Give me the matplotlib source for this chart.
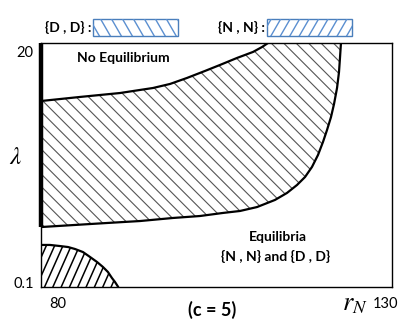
import numpy as np
import matplotlib
matplotlib.use('Agg')
import matplotlib.pyplot as plt
from matplotlib.patches import Polygon, Rectangle
from matplotlib.collections import LineCollection

# Region boundaries (x = r_N, y = lambda)
upper_x = [80.0, 82.71, 85.56, 88.40, 91.25, 94.10, 95.95, 98.38, 100.80,
           103.36, 105.50, 107.92, 110.20, 111.48, 112.34]
upper_y = [15.27, 15.43, 15.60, 15.76, 15.92, 16.17, 16.33, 16.66, 17.15,
           17.72, 18.21, 18.78, 19.27, 19.67, 20.0]

lower_x = [80.0, 84.84, 89.40, 94.10, 98.80, 102.65, 105.93, 108.35, 110.77,
           113.33, 115.04, 116.47, 117.61, 118.60, 119.46, 120.17, 120.74,
           121.31, 121.74, 122.17, 122.45, 122.59, 122.73]
lower_y = [4.99, 5.16, 5.32, 5.48, 5.73, 5.89, 6.14, 6.30, 6.62,
           7.20, 7.77, 8.42, 9.07, 9.89, 10.87, 11.93, 12.90,
           13.96, 15.02, 16.33, 17.63, 18.78, 20.0]

corner_x = [80.0, 81.28, 82.71, 83.85, 84.84, 85.98, 86.98, 87.98, 88.83,
            89.54, 90.11, 90.54, 91.0]
corner_y = [3.53, 3.53, 3.44, 3.36, 3.20, 2.95, 2.55, 2.14, 1.73,
            1.32, 0.83, 0.51, 0.1]

x_range = [80, 130]
y_range = [0.1, 20]
x_tick_labels = ['80', '130']
y_tick_labels = ['0.1', '20']

plt.rcParams['font.family'] = ['Lato', 'DejaVu Sans']
plt.rcParams['mathtext.fontset'] = 'stix'

W, H = 399, 322
fig = plt.figure(figsize=(W / 100, H / 100), dpi=100)
fig.patch.set_facecolor('white')


def fx(px):
    return px / W


def fy(py):
    return 1 - py / H


ax = fig.add_axes([fx(41), fy(287), fx(392) - fx(41), fy(43) - fy(287)])
ax.set_xlim(*x_range)
ax.set_ylim(*y_range)
ax.set_xticks([])
ax.set_yticks([])
for s in ax.spines.values():
    s.set_color('black')
    s.set_linewidth(1.0)


def hatch(a, xs, ys, angle, step, color, lw):
    # parallel lines in pixel space, clipped to the polygon
    tr = a.transData
    pts = tr.transform(np.column_stack([xs, ys]))
    poly = Polygon(np.column_stack([xs, ys]), closed=True, fill=False,
                   lw=0, transform=tr)
    a.add_patch(poly)
    d = np.array([np.cos(np.radians(angle)), np.sin(np.radians(angle))])
    n = np.array([-d[1], d[0]])
    c = pts.mean(0)
    r = np.ptp(pts, axis=0).sum()
    segs = []
    for k in np.arange(-r, r, step):
        p = c + n * k
        segs.append(tr.inverted().transform(np.array([p - d * r, p + d * r])))
    lc = LineCollection(segs, colors=color, linewidths=lw, transform=tr)
    lc.set_clip_path(poly)
    a.add_collection(lc)


# main region: {D, D}
reg_x = upper_x + lower_x[::-1]
reg_y = upper_y + lower_y[::-1]
hatch(ax, reg_x, reg_y, -45, 8.8, '#555555', 0.8)

# lower-left region: {N, N}
cx = corner_x + [80.0]
cy = corner_y + [0.1]
hatch(ax, cx, cy, 66, 7.6, 'black', 1.1)

for xs, ys in [(upper_x, upper_y), (lower_x, lower_y), (corner_x, corner_y)]:
    ax.plot(xs, ys, color='black', lw=1.6, solid_capstyle='round',
            solid_joinstyle='round')
ax.plot([x_range[0], x_range[0]], [lower_y[0], y_range[1]], color='black',
        lw=3.2, clip_on=False, solid_capstyle='butt')

# region labels
fig.text(fx(123), fy(58), 'No Equilibrium', ha='center', va='center',
         fontsize=10, fontweight='bold')
fig.text(fx(278), fy(237), 'Equilibria', ha='center', va='center',
         fontsize=10, fontweight='bold')
fig.text(fx(276), fy(256), '{N , N} and {D , D}', ha='center', va='center',
         fontsize=10, fontweight='bold')

# axis labels
fig.text(fx(58), fy(304), x_tick_labels[0], ha='center', va='center', fontsize=10.5)
fig.text(fx(385), fy(304), x_tick_labels[1], ha='center', va='center', fontsize=10.5)
fig.text(fx(24), fy(284), y_tick_labels[0], ha='center', va='center', fontsize=10.5)
fig.text(fx(25), fy(53), y_tick_labels[1], ha='center', va='center', fontsize=10.5)
fig.text(fx(212), fy(310), '(c = 5)', ha='center', va='center',
         fontsize=13, fontweight='bold')
fig.text(fx(355), fy(303), r'$r_N$', ha='center', va='center', fontsize=19)
fig.text(fx(16), fy(156), r'$\lambda$', ha='center', va='center', fontsize=18)

# legend boxes on a pixel overlay
lax = fig.add_axes([0, 0, 1, 1])
lax.set_xlim(0, W)
lax.set_ylim(H, 0)
lax.axis('off')
blue = '#4a7ebb'
for x0, x1, ang, step, lab in [(93, 178, -60, 9.5, '{D , D} :'),
                                (267, 352, 60, 8.2, '{N , N} :')]:
    bx = [x0, x1, x1, x0]
    by = [19, 19, 36, 36]
    hatch(lax, bx, by, ang, step, '#5b8fd0', 1.0)
    lax.add_patch(Rectangle((x0, 19), x1 - x0, 17, fill=False,
                            edgecolor=blue, lw=1.0))
    lax.text(x0 - 1.5, 27.5, lab, ha='right', va='center', fontsize=10,
             fontweight='bold')

fig.savefig('out.png', dpi=100, facecolor='white')
